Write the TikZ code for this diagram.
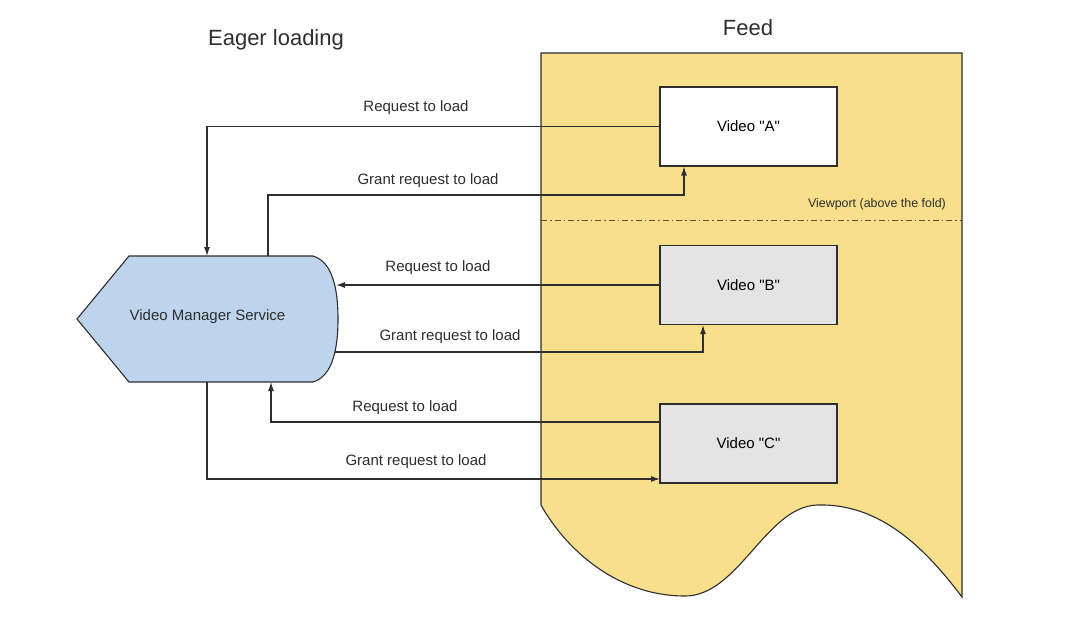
\documentclass[tikz,border=0pt]{standalone}
\usepackage{fontspec}
\setmainfont{Liberation Sans}[Ligatures=TeXReset]
\usetikzlibrary{arrows.meta}

\definecolor{feedfill}{HTML}{F8DF8B}
\definecolor{vmsfill}{HTML}{BDD4EC}
\definecolor{boxgray}{HTML}{E4E4E4}
\definecolor{linegray}{HTML}{2E2E2E}

\begin{document}
\begin{tikzpicture}[x=1pt,y=-1pt,font=\fontsize{15}{18}\selectfont,
   arr/.style={draw=linegray,line width=1.1pt,-{Latex[length=9pt,width=6pt]}},
   video/.style={draw=linegray,line width=1.1pt,minimum width=177pt,minimum height=79pt,inner sep=0pt},
   lbl/.style={text=linegray,inner sep=0pt}]
  \useasboundingbox (0,0) rectangle (1080,627);

  % ---- feed : page with torn bottom edge ----
  \filldraw[fill=feedfill,draw=linegray,line width=1.1pt]
     (541,53) -- (962,53) -- (962,597)
     .. controls (925,548) and (880,503) .. (817,505)
     .. controls (765,507) and (738,598) .. (683,596)
     .. controls (615,595) and (565,548) .. (541,505) -- cycle;
  \node[lbl,font=\fontsize{22}{26}\selectfont] (feedtitle) at (748,28) {Feed};
  \node[lbl,font=\fontsize{22}{26}\selectfont] (eagertitle) at (276,40) {Eager loading};

  % ---- viewport fold ----
  \coordinate (foldL) at (541,220);
  \coordinate (foldR) at (962,220);
  \draw[draw=brown!60!black,line width=0.7pt,dash pattern=on 6pt off 3pt on 1.5pt off 3pt] (foldL) -- (foldR);
  \node[lbl,anchor=east,font=\fontsize{12.4}{14}\selectfont] (fold) at (946,204) {Viewport (above the fold)};

  % ---- videos ----
  \node[video,fill=white] (va) at (748.5,126.5) {Video "A"};
  \node[video,fill=boxgray] (vb) at (748.5,285) {Video "B"};
  \node[video,fill=boxgray] (vc) at (748.5,443.5) {Video "C"};

  % ---- video manager service ----
  \filldraw[fill=vmsfill,draw=linegray,line width=1.1pt]
     (77,319) -- (129,256) -- (313,256) .. controls (333,262) and (338,290) .. (338,319)
     .. controls (338,348) and (333,376) .. (313,382) -- (129,382) -- cycle;
  \node[lbl] (vms) at (207.5,317) {Video Manager Service};
  \coordinate (vmsTL) at (207,256);
  \coordinate (vmsTR) at (268,256);
  \coordinate (vmsRT) at (336,285);
  \coordinate (vmsRB) at (335,352);
  \coordinate (vmsBR) at (271,382);
  \coordinate (vmsBL) at (207,382);

  % ---- connectors ----
  \draw[arr] (va.west) -| (vmsTL);
  \node[lbl] (reqA) at (416,108) {Request to load};
  \coordinate (gA) at (684,195);
  \draw[arr] (vmsTR) |- (gA) -- (va.south -| gA);
  \node[lbl] (grantA) at (428,181) {Grant request to load};

  \draw[arr] (vb.west) -- (vmsRT);
  \node[lbl] (reqB) at (438,268) {Request to load};
  \coordinate (gB) at (703,352);
  \draw[arr] (vmsRB) -- (gB) -- (vb.south -| gB);
  \node[lbl] (grantB) at (450,337) {Grant request to load};

  \coordinate (rC) at (660,422);
  \draw[arr] (rC) -| (vmsBR);
  \node[lbl] (reqC) at (405,408) {Request to load};
  \coordinate (gC) at (660,479);
  \draw[arr] (vmsBL) |- (gC);
  \node[lbl] (grantC) at (416,462) {Grant request to load};
\end{tikzpicture}
\end{document}
